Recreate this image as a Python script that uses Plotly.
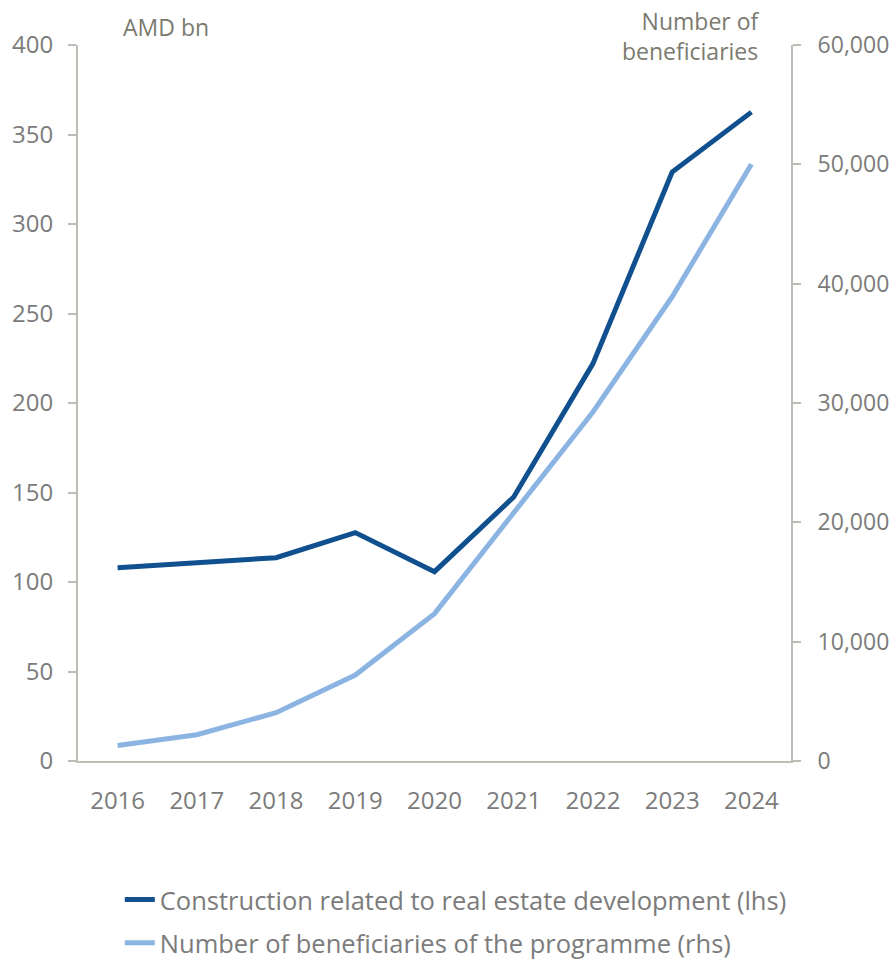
import plotly.graph_objects as go

years = ["2016", "2017", "2018", "2019", "2020", "2021", "2022", "2023", "2024"]
construction = [108.0, 110.6, 113.6, 127.6, 105.8, 147.5, 222.0, 329.0, 362.5]
beneficiaries = [1300, 2200, 4050, 7200, 12350, 20800, 29250, 38900, 50000]

name_lhs = "Construction related to real estate development (lhs)"
name_rhs = "Number of beneficiaries of the programme (rhs)"

DARK = "#10508F"
LIGHT = "#8CB4E2"
TXT = "#7B7B7B"
ANN = "#7A7A6E"
AX = "#BFBCB6"
FONT = "Open Sans, sans-serif"
FS = 24

fig = go.Figure()
fig.add_trace(go.Scatter(x=years, y=construction, name=name_lhs, mode="lines",
                         line=dict(color=DARK, width=5), legendgroup="a"))
fig.add_trace(go.Scatter(x=years, y=beneficiaries, name=name_rhs, mode="lines",
                         line=dict(color=LIGHT, width=5), yaxis="y2", legendgroup="b"))

fig.update_layout(
    width=894, height=960,
    margin=dict(l=78, r=103, t=44.5, b=199.3, autoexpand=False),
    paper_bgcolor="white", plot_bgcolor="white",
    font=dict(family=FONT, size=FS, color=TXT),
    xaxis=dict(type="category", range=[-0.5, 8.5], showgrid=False, showline=True,
               linecolor=AX, linewidth=2, ticks="", tickfont=dict(size=FS, color=TXT),
               ticklabelstandoff=17, zeroline=False, automargin=False),
    yaxis=dict(range=[0, 400], dtick=50, showgrid=False, showline=True, linecolor=AX, linewidth=2,
               ticks="outside", ticklen=8, tickcolor=AX, tickwidth=2,
               tickfont=dict(size=FS, color=TXT), ticklabelstandoff=10, zeroline=False,
               automargin=False),
    yaxis2=dict(range=[0, 60000], dtick=10000, overlaying="y", side="right", showgrid=False,
                showline=True, linecolor=AX, linewidth=2, ticks="outside", ticklen=8,
                tickcolor=AX, tickwidth=2, tickformat=",", tickfont=dict(size=23, color=TXT),
                ticklabelstandoff=12, zeroline=False, automargin=False),
    showlegend=True,
    legend=dict(orientation="v", xref="container", yref="container", x=0.134, xanchor="left",
                y=0.087, yanchor="top", font=dict(size=25.5, color=TXT), tracegroupgap=7,
                itemwidth=30, bgcolor="rgba(0,0,0,0)"),
    annotations=[
        dict(text="AMD bn", xref="paper", yref="paper", x=0.1234, y=1.0258,
             xanchor="center", yanchor="middle", showarrow=False,
             font=dict(size=23, color=ANN)),
        dict(text="Number of<br>beneficiaries", xref="paper", yref="paper", x=0.9593, y=1.012,
             xanchor="right", yanchor="middle", align="right", showarrow=False,
             font=dict(size=23, color=ANN)),
    ],
)

fig.write_html("out.html", config={"displayModeBar": False},
               post_script="document.body.style.margin='0';")
